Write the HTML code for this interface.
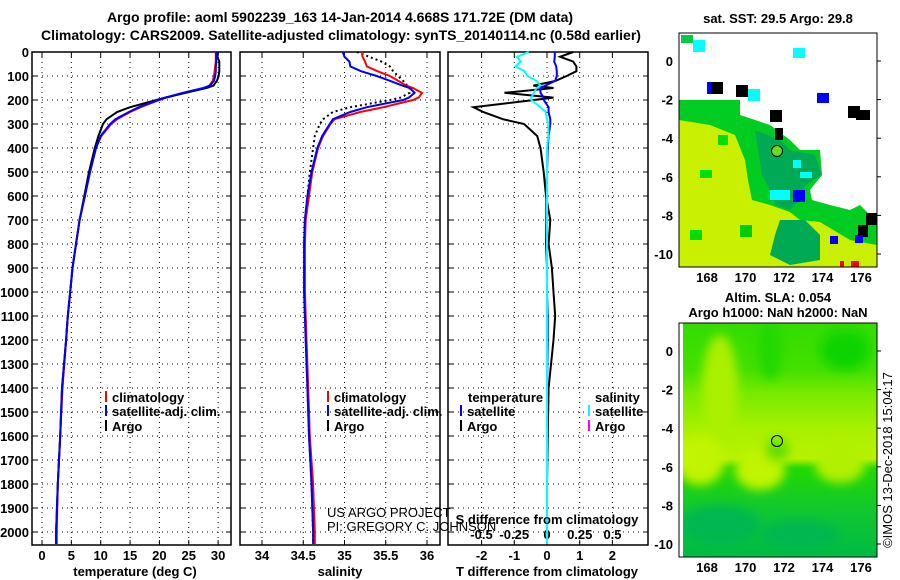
<!DOCTYPE html>
<html><head><meta charset="utf-8"><style>
body{margin:0;background:#fff}
svg{display:block;font-family:"Liberation Sans",sans-serif}
.t{font-weight:bold;font-size:13px}
.tt{font-weight:bold;font-size:14px}
</style></head><body>
<svg id="c" width="900" height="580" viewBox="0 0 900 580">
<defs>
<linearGradient id="slaG" x1="0" y1="0" x2="0" y2="1">
<stop offset="0" stop-color="#33dc00"/><stop offset="0.2" stop-color="#44e000"/><stop offset="0.3" stop-color="#77ea00"/>
<stop offset="0.45" stop-color="#a8f000"/><stop offset="0.58" stop-color="#b8f200"/><stop offset="0.62" stop-color="#22d800"/>
<stop offset="0.8" stop-color="#11c830"/><stop offset="1" stop-color="#00bb44"/></linearGradient>
<filter id="bl"><feGaussianBlur stdDeviation="5"/></filter>
<clipPath id="m1"><rect x="679" y="33" width="198" height="234"/></clipPath>
<clipPath id="m2"><rect x="679" y="323" width="198" height="234"/></clipPath>
</defs>
<text class="tt" x="340" y="22" text-anchor="middle">Argo profile: aoml 5902239_163 14-Jan-2014 4.668S 171.72E (DM data)</text>
<text class="tt" x="341" y="40" text-anchor="middle">Climatology: CARS2009. Satellite-adjusted climatology: synTS_20140114.nc (0.58d earlier)</text>
<g id="p"></g>
<text x="327" y="517" font-size="13">US ARGO PROJECT</text>
<text x="327" y="531" font-size="13">PI: GREGORY C. JOHNSON</text>
<text class="t" x="135" y="576" text-anchor="middle">temperature (deg C)</text>
<text class="t" x="340" y="576" text-anchor="middle">salinity</text>
<text class="t" x="547" y="576" text-anchor="middle">T difference from climatology</text>
<text class="t" x="547" y="524" text-anchor="middle">S difference from climatology</text>
<g class="t">
<rect x="105" y="391" width="2" height="11" fill="#f00"/><text x="112" y="402">climatology</text>
<rect x="105" y="405" width="2" height="11" fill="#00f"/><text x="112" y="416">satellite-adj. clim.</text>
<rect x="105" y="420" width="2" height="11" fill="#000"/><text x="112" y="431">Argo</text></g>
<g class="t">
<rect x="327" y="391" width="2" height="11" fill="#f00"/><text x="334" y="402">climatology</text>
<rect x="327" y="405" width="2" height="11" fill="#00f"/><text x="334" y="416">satellite-adj. clim.</text>
<rect x="327" y="420" width="2" height="11" fill="#000"/><text x="334" y="431">Argo</text></g>
<g class="t">
<text x="468" y="402">temperature</text><text x="595" y="402">salinity</text>
<rect x="460" y="405" width="2" height="11" fill="#00f"/><text x="467" y="416">satellite</text>
<rect x="460" y="420" width="2" height="11" fill="#000"/><text x="467" y="431">Argo</text>
<rect x="588" y="405" width="2" height="11" fill="#0ff"/><text x="595" y="416">satellite</text>
<rect x="588" y="420" width="2" height="11" fill="#f0f"/><text x="595" y="431">Argo</text></g>
<text class="t" x="778" y="23" text-anchor="middle">sat. SST: 29.5 Argo: 29.8</text>
<g clip-path="url(#m1)">
<rect x="679" y="33" width="198" height="234" fill="#fff"/>
<polygon points="679,100 740,100 740,115 770,125 790,140 800,150 820,150 822,175 810,190 812,200 830,205 850,210 860,205 870,215 877,225 877,267 679,267" fill="#00cc22"/>
<polygon points="679,120 710,125 735,135 745,160 748,180 752,200 770,205 790,212 800,220 820,222 850,240 877,245 877,267 679,267" fill="#c8f000"/>
<polygon points="755,130 780,140 790,150 815,155 822,175 805,185 800,200 790,210 775,205 770,190 762,175" fill="#00aa55"/>
<polygon points="780,220 805,220 820,235 820,260 790,265 770,255 775,235" fill="#00aa55"/>
<rect x="718" y="135" width="10" height="10" fill="#00dd00"/><rect x="700" y="170" width="12" height="8" fill="#00dd00"/><rect x="690" y="230" width="12" height="10" fill="#00dd00"/><rect x="740" y="225" width="12" height="12" fill="#00cc00"/>
<rect x="681" y="35" width="12" height="8" fill="#00cc44"/><rect x="693" y="40" width="12" height="12" fill="#0ff"/><rect x="793" y="48" width="12" height="10" fill="#0ff"/>
<rect x="707" y="82" width="12" height="12" fill="#00f"/><rect x="711" y="82" width="12" height="12" fill="#000"/><rect x="736" y="85" width="12" height="12" fill="#000"/><rect x="748" y="89" width="12" height="12" fill="#0ff"/>
<rect x="817" y="93" width="12" height="10" fill="#00f"/><rect x="770" y="110" width="12" height="12" fill="#000"/><rect x="848" y="106" width="12" height="12" fill="#000"/><rect x="856" y="110" width="14" height="10" fill="#000"/>
<rect x="775" y="128" width="8" height="12" fill="#000"/><rect x="793" y="160" width="8" height="8" fill="#0ff"/><rect x="770" y="190" width="20" height="10" fill="#0ff"/><rect x="793" y="190" width="12" height="12" fill="#00f"/>
<rect x="800" y="172" width="12" height="6" fill="#0ff"/><rect x="866" y="213" width="11" height="12" fill="#000"/><rect x="858" y="225" width="10" height="12" fill="#000"/><rect x="855" y="235" width="8" height="8" fill="#00f"/>
<rect x="830" y="236" width="8" height="8" fill="#00f"/><rect x="840" y="261" width="4" height="6" fill="#f00"/><rect x="851" y="261" width="8" height="6" fill="#f00"/>
<circle cx="777" cy="151" r="5.5" fill="#66dd22" stroke="#000"/>
</g>
<rect x="679" y="33" width="198" height="234" fill="none" stroke="#000"/>
<text class="t" x="778" y="302" text-anchor="middle">Altim. SLA: 0.054</text>
<text class="t" x="778" y="317" text-anchor="middle">Argo h1000: NaN h2000: NaN</text>
<g clip-path="url(#m2)">
<rect x="679" y="323" width="198" height="234" fill="url(#slaG)"/>
<g filter="url(#bl)">
<ellipse cx="720" cy="390" rx="18" ry="55" fill="#aaf000"/>
<ellipse cx="770" cy="350" rx="12" ry="30" fill="#22d800"/>
<ellipse cx="845" cy="350" rx="25" ry="20" fill="#11d400"/>
<ellipse cx="700" cy="460" rx="25" ry="25" fill="#c0f400"/>
<ellipse cx="760" cy="470" rx="25" ry="20" fill="#c0f400"/>
<ellipse cx="840" cy="465" rx="25" ry="18" fill="#b0f000"/>
<ellipse cx="777" cy="450" rx="12" ry="12" fill="#66e000"/>
<ellipse cx="720" cy="525" rx="40" ry="20" fill="#00b850"/>
<ellipse cx="800" cy="535" rx="40" ry="15" fill="#00b850"/>
</g>
<rect x="679" y="323" width="4" height="234" fill="#fff"/>
<circle cx="777" cy="441" r="5.5" fill="none" stroke="#000"/>
</g>
<rect x="679" y="323" width="198" height="234" fill="none" stroke="#000"/>
<text x="893" y="460" font-size="13" text-anchor="middle" transform="rotate(-90 893 460)" dy="-1">©IMOS 13-Dec-2018 15:04:17</text>
</svg>
<script>
const depths=[0,20,40,60,80,100,120,140,150,170,190,200,230,250,280,300,350,400,500,600,700,800,900,1000,1100,1200,1400,1600,1800,2000,2050];
const tArgo=[30.0,29.9,30.2,30.2,30.2,30.1,29.8,29.2,28.0,24.5,21.0,19.5,15.0,12.8,11.0,10.4,9.6,9.0,8.0,7.2,6.4,5.8,5.2,4.8,4.4,4.1,3.4,3.1,2.7,2.4,2.4];
const tSat=[29.7,29.7,29.7,29.6,29.6,29.5,29.3,28.6,27.5,24.0,21.0,19.8,16.5,14.8,12.5,11.6,10.0,9.2,8.2,7.3,6.4,5.8,5.2,4.8,4.4,4.1,3.4,3.1,2.7,2.4,2.4];
const tClim=[29.6,29.6,29.6,29.5,29.4,29.3,29.1,28.5,27.6,24.2,21.2,20.0,16.8,15.0,12.8,11.8,10.1,9.2,8.1,7.3,6.4,5.8,5.2,4.8,4.4,4.1,3.5,3.1,2.7,2.5,2.5];
const sArgo=[35.15,35.3,35.45,35.55,35.59,35.65,35.71,35.76,35.79,35.79,35.68,35.55,35.07,34.86,34.74,34.70,34.64,34.62,34.58,34.55,34.52,34.51,34.51,34.51,34.52,34.53,34.55,34.57,34.6,34.62,34.62];
const sSat=[34.98,35.0,35.06,35.07,35.2,35.39,35.55,35.7,35.79,35.85,35.78,35.71,35.27,35.07,34.86,34.82,34.73,34.67,34.60,34.55,34.52,34.51,34.51,34.51,34.52,34.53,34.55,34.57,34.6,34.62,34.62];
const sClim=[35.21,35.22,35.25,35.27,35.4,35.55,35.65,35.75,35.83,35.94,35.9,35.83,35.47,35.19,34.88,34.83,34.74,34.68,34.61,34.57,34.53,34.52,34.52,34.52,34.53,34.54,34.56,34.58,34.62,34.64,34.64];
const dTArgo=[0.8,0.4,0.8,0.9,0.9,0.6,0.27,-0.42,0.2,-1.3,0.2,-0.4,-2.25,-1.95,-1.35,-0.7,-0.3,-0.2,-0.1,-0.03,0.1,0.05,0.15,0.2,0.25,0.2,0.05,0.02,0.0,0.0,0.0];
const dTSat=[0.24,0.24,0.22,0.28,0.3,0.3,0.25,-0.05,-0.2,-0.2,-0.1,-0.1,0.05,0.05,0.1,0.1,0.05,0.02,0.0,-0.02,-0.02,-0.03,0.0,0.0,0.02,0.02,0.0,0.0,0.0,0.0,0.0];
const dSSat=[-0.14,-0.23,-0.2,-0.24,-0.17,-0.15,-0.08,-0.05,-0.08,-0.1,-0.12,-0.12,-0.05,-0.01,0.0,0.01,0.01,0.0,0.0,0.0,0.0,0.0,0.0,0.0,0.0,0.0,0.0,0.0,0.0,0.0,0.0];
const depthTicks=[0,100,200,300,400,500,600,700,800,900,1000,1100,1200,1300,1400,1500,1600,1700,1800,1900,2000];
const tTicks=[0,5,10,15,20,25,30];
const sTicks=[34,34.5,35,35.5,36];
const dTTicks=[-2,-1,0,1,2];
const dSTicks=[-0.5,-0.25,0,0.25,0.5];

const NS='http://www.w3.org/2000/svg';
const g=document.getElementById('p');
function mk(tag,at){const e=document.createElementNS(NS,tag);for(const k in at)e.setAttribute(k,at[k]);g.appendChild(e);return e;}
const yD=d=>52+d*0.24;
const xT=v=>42+v*5.87, xS=v=>262+(v-34)*82.5, xDT=v=>547+v*32.7, xDS=v=>547+v*131;
const panels=[{l:32,r:231,ticks:tTicks,x:xT,n:'temperature'},{l:240,r:440,ticks:sTicks,x:xS,n:'salinity'},{l:448,r:648,ticks:dTTicks,x:xDT,n:'t-diff'}];
const Y0=52,Y1=545;
panels.forEach((p,i)=>{
  const fr=mk('rect',{x:p.l,y:Y0,width:p.r-p.l,height:Y1-Y0,fill:'none',stroke:'#000','stroke-width':1.5});
  
  
  depthTicks.forEach(d=>{
    const y=yD(d);
    const gl=mk('line',{x1:p.l,x2:p.r,y1:y,y2:y,stroke:'#000','stroke-dasharray':'1 4'});
    
    
    mk('line',{x1:p.l,x2:p.l+5,y1:y,y2:y,stroke:'#000'});
    mk('line',{x1:p.r-5,x2:p.r,y1:y,y2:y,stroke:'#000'});
  });
  p.ticks.forEach(v=>{
    const x=p.x(v);
    const gl=mk('line',{x1:x,x2:x,y1:Y0,y2:Y1,stroke:'#000','stroke-dasharray':'1 4'});
    
    
    mk('line',{x1:x,x2:x,y1:Y1-5,y2:Y1,stroke:'#000'});
    mk('line',{x1:x,x2:x,y1:Y0,y2:Y0+5,stroke:'#000'});
    const t=mk('text',{x:x,y:560,'text-anchor':'middle','class':'t'});t.textContent=String(v);
    
    
  });
});
depthTicks.forEach(d=>{
  const t=mk('text',{x:29,y:yD(d)+5,'text-anchor':'end','class':'t'});t.textContent=String(d);
  
  
});
dSTicks.forEach(v=>{
  const t=mk('text',{x:xDS(v),y:539,'text-anchor':'middle','class':'t'});t.textContent=String(v);
  
  
});
function line(vals,xf,col,name,extra){
  const pts=vals.map((v,i)=>xf(v).toFixed(1)+','+yD(depths[i]).toFixed(1)).join(' ');
  const e=mk('polyline',Object.assign({points:pts,fill:'none',stroke:col,'stroke-width':2},extra||{}));
  
  
}
line(tClim,xT,'#f00','temp-climatology-line');
line(tArgo,xT,'#000','temp-argo-line');
line(tSat,xT,'#00f','temp-satellite-line');
line(sArgo,xS,'#000','sal-argo-line',{'stroke-dasharray':'2 3'});
line(sClim,xS,'#f00','sal-climatology-line');
line(sSat,xS,'#00f','sal-satellite-line');
line(dTArgo,xDT,'#000','tdiff-argo-line');
line(dTSat,xDT,'#00f','tdiff-satellite-line');
line(dSSat,xDS,'#0ff','sdiff-satellite-line');

const lons=[168,170,172,174,176], lats=[0,-2,-4,-6,-8,-10];
const xL=l=>707+(l-168)*19.25;
[[61,267,33],[351,557,323]].forEach((m,k)=>{
  lons.forEach(l=>{
    const t=mk('text',{x:xL(l),y:m[1]+15,'text-anchor':'middle','class':'t'});t.textContent=String(l);
    
    
    mk('line',{x1:xL(l),x2:xL(l),y1:m[1]-4,y2:m[1],stroke:'#000'});
    mk('line',{x1:xL(l),x2:xL(l),y1:m[2],y2:m[2]+4,stroke:'#000'});
  });
  lats.forEach(a=>{
    const y=m[0]-a*19.3;
    const t=mk('text',{x:673,y:y+5,'text-anchor':'end','class':'t'});t.textContent=String(a);
    
    
    mk('line',{x1:877,x2:881,y1:y,y2:y,stroke:'#000'});
  });
});
</script>
</body></html>
